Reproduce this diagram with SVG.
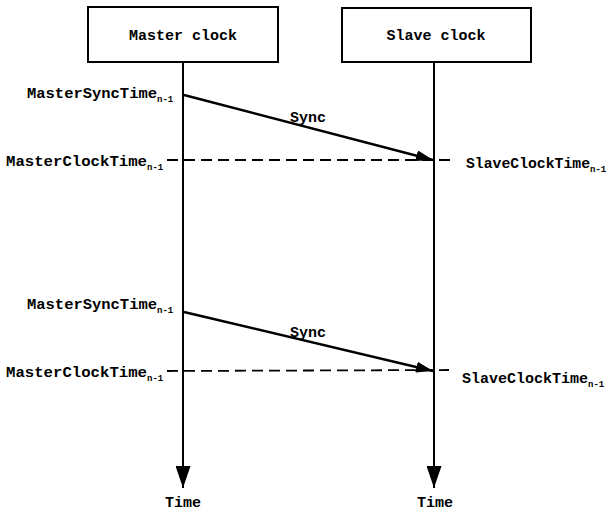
<svg xmlns="http://www.w3.org/2000/svg" width="610" height="513" viewBox="0 0 610 513">
  <style>
    .box { fill: #fff; stroke: #000; stroke-width: 2; }
    .lbl { font-family: "Liberation Mono", "DejaVu Sans Mono", monospace; font-weight: bold; font-size: 15px; fill: #000; }
    .sub { font-size: 9px; }
    .life { stroke: #000; stroke-width: 2; fill: none; }
    .msg { stroke: #000; stroke-width: 2.5; fill: none; }
    .dash { stroke: #000; stroke-width: 1.8; stroke-dasharray: 11 6; fill: none; }
  </style>
  <defs>
    <marker id="headTime" markerUnits="userSpaceOnUse" markerWidth="22" markerHeight="15" refX="22" refY="7.5" orient="auto">
      <path d="M0,0 L22,7.5 L0,15 Z" fill="#000"/>
    </marker>
    <marker id="headSync" markerUnits="userSpaceOnUse" markerWidth="17" markerHeight="11" refX="17" refY="5.5" orient="auto">
      <path d="M0,0 L17,5.5 L0,11 Z" fill="#000"/>
    </marker>
  </defs>
  <rect width="610" height="513" fill="#fff"/>

  <g id="master-clock">
    <rect class="box" x="88" y="7" width="190" height="55"/>
    <text class="lbl" x="183" y="40" text-anchor="middle">Master clock</text>
  </g>
  <g id="slave-clock">
    <rect class="box" x="342" y="8" width="189" height="54"/>
    <text class="lbl" x="436" y="40" text-anchor="middle">Slave clock</text>
  </g>

  <g id="connectors">
    <!-- time axes -->
    <line class="life" x1="183" y1="62" x2="183" y2="488" marker-end="url(#headTime)"/>
    <line class="life" x1="434" y1="62" x2="434" y2="488" marker-end="url(#headTime)"/>
    <!-- clock time reference lines -->
    <line class="dash" x1="167" y1="160" x2="452" y2="160"/>
    <line class="dash" x1="167" y1="371" x2="449" y2="370"/>
    <!-- sync messages -->
    <line class="msg" x1="184" y1="95" x2="433" y2="160" marker-end="url(#headSync)"/>
    <line class="msg" x1="184" y1="312" x2="433" y2="371" marker-end="url(#headSync)"/>
  </g>

  <g id="labels">
    <text class="lbl" x="308" y="122" text-anchor="middle">Sync</text>
    <text class="lbl" x="308" y="337" text-anchor="middle">Sync</text>

    <text class="lbl" x="27" y="98"><tspan textLength="130" lengthAdjust="spacingAndGlyphs">MasterSyncTime</tspan><tspan class="sub" dy="4">n-1</tspan></text>
    <text class="lbl" x="6" y="166"><tspan textLength="141" lengthAdjust="spacingAndGlyphs">MasterClockTime</tspan><tspan class="sub" dy="4">n-1</tspan></text>
    <text class="lbl" x="466" y="168"><tspan textLength="124" lengthAdjust="spacingAndGlyphs">SlaveClockTime</tspan><tspan class="sub" dy="4">n-1</tspan></text>

    <text class="lbl" x="27" y="309"><tspan textLength="130" lengthAdjust="spacingAndGlyphs">MasterSyncTime</tspan><tspan class="sub" dy="4">n-1</tspan></text>
    <text class="lbl" x="6" y="377"><tspan textLength="141" lengthAdjust="spacingAndGlyphs">MasterClockTime</tspan><tspan class="sub" dy="4">n-1</tspan></text>
    <text class="lbl" x="462" y="383"><tspan textLength="126" lengthAdjust="spacingAndGlyphs">SlaveClockTime</tspan><tspan class="sub" dy="4">n-1</tspan></text>

    <text class="lbl" x="183" y="507" text-anchor="middle">Time</text>
    <text class="lbl" x="435" y="507" text-anchor="middle">Time</text>
  </g>
</svg>
